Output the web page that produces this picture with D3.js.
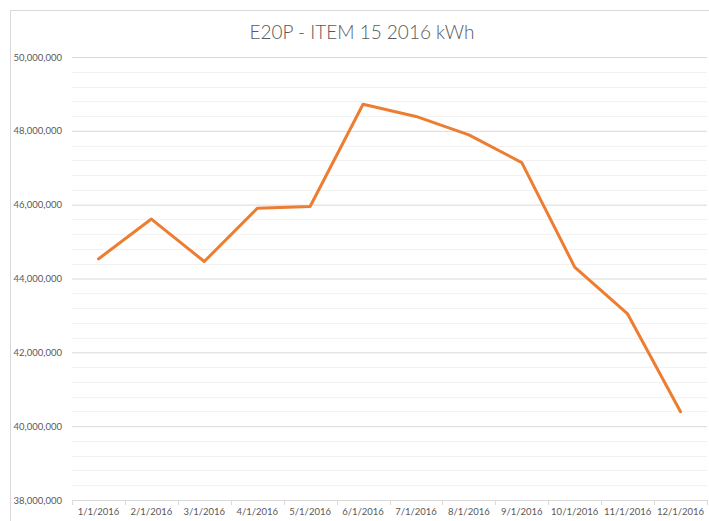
<!DOCTYPE html>
<html>
<head>
<meta charset="utf-8">
<script src="https://cdn.jsdelivr.net/npm/d3@7"></script>
<style>
  html, body { margin: 0; padding: 0; background: #fff; }
  svg { display: block; }
</style>
</head>
<body>
<script>
const title = "E20P - ITEM 15 2016 kWh";
const categories = ["1/1/2016","2/1/2016","3/1/2016","4/1/2016","5/1/2016","6/1/2016","7/1/2016","8/1/2016","9/1/2016","10/1/2016","11/1/2016","12/1/2016"];
const values = [44530000, 45610000, 44460000, 45900000, 45950000, 48720000, 48390000, 47890000, 47140000, 44310000, 43040000, 40390000];
const yTicks = [38000000, 40000000, 42000000, 44000000, 46000000, 48000000, 50000000];
const yMinorStep = 400000;

const W = 709, H = 521;
const plot = {left: 72, right: 707, top: 57, bottom: 500};

const svg = d3.select("body").append("svg").attr("width", W).attr("height", H);
svg.append("rect").attr("x", 0).attr("y", 0).attr("width", W).attr("height", H).attr("fill", "#fff");
// chart frame
svg.append("rect").attr("x", 10.5).attr("y", 10.5).attr("width", W + 20).attr("height", H + 20)
  .attr("fill", "none").attr("stroke", "#d9d9d9").attr("stroke-width", 1);

const x = d3.scaleBand().domain(categories).range([plot.left, plot.right]).padding(0);
const y = d3.scaleLinear().domain([38000000, 50000000]).range([plot.bottom, plot.top]);

// minor gridlines
const minor = d3.range(38000000, 50000001, yMinorStep).filter(v => v % 2000000 !== 0);
svg.append("g").selectAll("line").data(minor).join("line")
  .attr("x1", plot.left).attr("x2", plot.right)
  .attr("y1", d => Math.round(y(d)) + 0.5).attr("y2", d => Math.round(y(d)) + 0.5)
  .attr("stroke", "#f2f2f2").attr("stroke-width", 1);

// major gridlines + y axis labels
const yAxis = d3.axisLeft(y).tickValues(yTicks).tickFormat(d3.format(",")).tickSize(-(plot.right - plot.left)).tickPadding(10);
const gy = svg.append("g").attr("transform", `translate(${plot.left},0)`).call(yAxis);
gy.select(".domain").remove();
gy.selectAll(".tick line").attr("stroke", "#d9d9d9");
gy.selectAll(".tick text").attr("fill", "#595959").style("font-family", "Lato, 'Open Sans', sans-serif").style("font-size", "9.5px");

// x axis
const gx = svg.append("g").attr("transform", `translate(0,${plot.bottom})`);
gx.append("line").attr("x1", plot.left).attr("x2", plot.right).attr("y1", 0.5).attr("y2", 0.5).attr("stroke", "#d9d9d9");
const bounds = d3.range(categories.length + 1).map(i => plot.left + i * x.bandwidth());
gx.selectAll("line.tk").data(bounds).join("line").attr("class", "tk")
  .attr("x1", d => Math.round(d) + 0.5).attr("x2", d => Math.round(d) + 0.5).attr("y1", 0).attr("y2", 5)
  .attr("stroke", "#d9d9d9");
gx.selectAll("text").data(categories).join("text")
  .attr("x", d => x(d) + x.bandwidth() / 2).attr("y", 15)
  .attr("text-anchor", "middle").attr("fill", "#595959")
  .style("font-family", "Lato, 'Open Sans', sans-serif").style("font-size", "9.5px")
  .text(d => d);

// line
const line = d3.line().x((d, i) => x(categories[i]) + x.bandwidth() / 2).y(d => y(d));
svg.append("path").datum(values).attr("d", line)
  .attr("fill", "none").attr("stroke", "#ED7D31").attr("stroke-width", 3)
  .attr("stroke-linejoin", "round").attr("stroke-linecap", "round");

// title
svg.append("text").attr("x", 362).attr("y", 39).attr("text-anchor", "middle")
  .attr("fill", "#595959").style("font-family", "Lato, 'Open Sans', sans-serif").style("font-size", "19px").style("font-weight", 300)
  .text(title);
</script>
</body>
</html>
